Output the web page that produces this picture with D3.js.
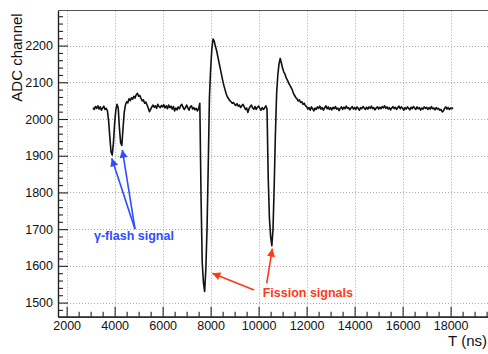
<!DOCTYPE html>
<html>
<head>
<meta charset="utf-8">
<script src="https://cdn.jsdelivr.net/npm/d3@7"></script>
<style>
  body { margin: 0; background: #fff; }
  svg { display: block; font-family: "Liberation Sans", Arial, Helvetica, sans-serif; }
</style>
</head>
<body>
<svg width="488" height="354"></svg>
<script>
// waveform: one ADC sample every 50 ns starting at 3100 ns
const tStart = 3100;
const tStep = 50;
const adcValues = [
  // 3100 - 3950
  2031, 2026, 2034, 2029, 2036, 2027, 2033, 2024, 2030, 2035, 2026, 2029, 2022, 1995, 1950, 1910, 1902, 1935,
  // 4000 - 4950
  1988, 2025, 2040, 2030, 1975, 1935, 1928, 1975, 2018, 2038, 2047, 2044, 2055, 2050, 2058, 2054, 2062, 2057, 2066, 2070,
  // 5000 - 5950
  2062, 2064, 2056, 2049, 2052, 2043, 2046, 2038, 2030, 2020, 2026, 2033, 2038, 2032, 2036, 2029, 2040, 2034, 2031, 2037,
  // 6000 - 6950
  2033, 2039, 2030, 2036, 2028, 2038, 2031, 2035, 2027, 2034, 2022, 2030, 2025, 2033, 2028, 2036, 2040, 2032, 2026, 2031,
  // 7000 - 7950
  2038, 2030, 2024, 2033, 2036, 2027, 2031, 2025, 2029, 2022, 2028, 2043, 1790, 1610, 1555, 1530, 1590, 1700, 1870, 2060,
  // 8000 - 8950
  2135, 2190, 2218, 2212, 2198, 2186, 2170, 2154, 2138, 2122, 2106, 2092, 2080, 2068, 2060, 2055, 2050, 2047, 2043, 2045,
  // 9000 - 9950
  2040, 2037, 2042, 2035, 2038, 2031, 2036, 2040, 2033, 2026, 2030, 2018, 2028, 2034, 2038, 2030, 2027, 2034, 2026, 2032,
  // 10000 - 10950
  2035, 2029, 2024, 2031, 2026, 2030, 2036, 2028, 1840, 1730, 1680, 1655, 1700, 1820, 1960, 2070, 2120, 2150, 2165, 2152,
  // 11000 - 11950
  2138, 2128, 2122, 2112, 2106, 2098, 2092, 2086, 2080, 2070, 2064, 2058, 2055, 2049, 2052, 2045, 2047, 2040, 2043, 2036,
  // 12000 - 12950
  2034, 2027, 2031, 2024, 2033, 2028, 2022, 2030, 2026, 2033, 2029, 2035, 2027, 2031, 2024, 2030, 2036, 2028, 2033, 2026,
  // 13000 - 13950
  2031, 2025, 2032, 2028, 2034, 2027, 2030, 2023, 2029, 2033, 2026, 2032, 2028, 2035, 2029, 2031, 2025, 2030, 2034, 2027,
  // 14000 - 14950
  2031, 2026, 2033, 2029, 2024, 2031, 2028, 2034, 2030, 2026, 2032, 2027, 2033, 2029, 2035, 2028, 2031, 2025, 2030, 2033,
  // 15000 - 15950
  2027, 2032, 2028, 2034, 2030, 2036, 2029, 2033, 2027, 2031, 2025, 2030, 2034, 2028, 2032, 2026, 2031, 2035, 2028, 2033,
  // 16000 - 16950
  2029, 2024, 2031, 2027, 2033, 2029, 2025, 2032, 2028, 2034, 2030, 2026, 2033, 2028, 2031, 2024, 2030, 2027, 2033, 2029,
  // 17000 - 17950
  2032, 2026, 2031, 2027, 2034, 2028, 2030, 2025, 2031, 2027, 2029, 2024, 2026, 2019, 2022, 2029, 2033, 2027, 2031, 2026,
  // 18000 - 18100
  2030, 2028, 2031
];

const xMajorTicks = [2000, 4000, 6000, 8000, 10000, 12000, 14000, 16000, 18000];
const yMajorTicks = [1500, 1600, 1700, 1800, 1900, 2000, 2100, 2200];

// annotations in data units: [T, ADC]
const gammaLabel = { text: "\u03b3-flash signal", at: [3140, 1670] };
const gammaArrows = [
  { from: [4850, 1700], to: [3880, 1893] },
  { from: [4850, 1700], to: [4320, 1916] }
];
const fissionLabel = { text: "Fission signals", at: [10170, 1516] };
const fissionArrows = [
  { from: [9810, 1534], to: [8071, 1580] },
  { from: [10337, 1552], to: [10571, 1647] }
];

const blue = "#2f4dff";
const red = "#ff3a17";

const svg = d3.select("svg");
const frame = { left: 58, right: 498.6, top: 10.7, bottom: 316.7 };

const x = d3.scaleLinear().domain([1640, 20000]).range([frame.left, frame.right]);
const y = d3.scaleLinear().domain([1461.5, 2295]).range([frame.bottom, frame.top]);

const xMinor = d3.range(2000, 20000, 500).filter(d => xMajorTicks.indexOf(d) < 0);
const yMinor = d3.range(1480, 2295, 20).filter(d => yMajorTicks.indexOf(d) < 0);
const fmt = d3.format("d");

// grid
const grid = svg.append("g")
  .attr("stroke", "#a8a8a8")
  .attr("stroke-width", 1)
  .attr("stroke-dasharray", "1,2");
grid.selectAll(".vg").data(xMajorTicks).join("line")
  .attr("x1", d => Math.round(x(d)) + 0.5).attr("x2", d => Math.round(x(d)) + 0.5)
  .attr("y1", frame.top).attr("y2", frame.bottom);
grid.selectAll(".hg").data(yMajorTicks).join("line")
  .attr("y1", d => Math.round(y(d)) + 0.5).attr("y2", d => Math.round(y(d)) + 0.5)
  .attr("x1", frame.left).attr("x2", 488);

// top frame line
svg.append("line")
  .attr("x1", frame.left).attr("x2", 488)
  .attr("y1", 10.5).attr("y2", 10.5)
  .attr("stroke", "#555").attr("stroke-width", 1);

// x axis
const gxMinor = svg.append("g").attr("transform", `translate(0,${frame.bottom})`)
  .call(d3.axisBottom(x).tickValues(xMinor).tickSize(-5).tickFormat("").tickSizeOuter(0));
const gx = svg.append("g").attr("transform", `translate(0,${frame.bottom})`)
  .call(d3.axisBottom(x).tickValues(xMajorTicks).tickFormat(fmt).tickSize(-10).tickPadding(4.5).tickSizeOuter(0));

// y axis
const gyMinor = svg.append("g").attr("transform", `translate(${frame.left},0)`)
  .call(d3.axisLeft(y).tickValues(yMinor).tickSize(-5).tickFormat("").tickSizeOuter(0));
const gy = svg.append("g").attr("transform", `translate(${frame.left},0)`)
  .call(d3.axisLeft(y).tickValues(yMajorTicks).tickFormat(fmt).tickSize(-10).tickPadding(5).tickSizeOuter(0));

[gxMinor, gx, gyMinor, gy].forEach(g => {
  g.attr("font-family", null).attr("font-size", 12.5);
  g.selectAll("line").attr("stroke", "#222").attr("stroke-width", 1.1);
  g.selectAll(".domain").attr("stroke", "#222").attr("stroke-width", 1.2);
  g.selectAll("text").attr("fill", "#111");
});

// axis titles
svg.append("text")
  .attr("transform", "translate(21.5,13.3) rotate(-90)")
  .attr("text-anchor", "end")
  .attr("font-size", 15)
  .attr("fill", "#111")
  .text("ADC channel");
svg.append("text")
  .attr("x", 487).attr("y", 346)
  .attr("text-anchor", "end")
  .attr("font-size", 15)
  .attr("fill", "#111")
  .text("T (ns)");

// waveform
const line = d3.line()
  .x((d, i) => x(tStart + i * tStep))
  .y(d => y(d));
svg.append("path")
  .datum(adcValues)
  .attr("d", line)
  .attr("fill", "none")
  .attr("stroke", "#111")
  .attr("stroke-width", 1.6)
  .attr("stroke-linejoin", "round");

// arrow heads
const defs = svg.append("defs");
[["headBlue", blue], ["headRed", red]].forEach(([id, c]) => {
  defs.append("marker")
    .attr("id", id)
    .attr("viewBox", "0 0 10 10")
    .attr("refX", 10).attr("refY", 5)
    .attr("markerUnits", "userSpaceOnUse")
    .attr("markerWidth", 9).attr("markerHeight", 8)
    .attr("orient", "auto")
    .append("path")
    .attr("d", "M0,0 L10,5 L0,10 Z")
    .attr("fill", c);
});

function drawArrows(list, color, head) {
  svg.append("g").selectAll("line").data(list).join("line")
    .attr("x1", d => x(d.from[0])).attr("y1", d => y(d.from[1]))
    .attr("x2", d => x(d.to[0])).attr("y2", d => y(d.to[1]))
    .attr("stroke", color)
    .attr("stroke-width", 1.6)
    .attr("marker-end", `url(#${head})`);
}
drawArrows(gammaArrows, blue, "headBlue");
drawArrows(fissionArrows, red, "headRed");

svg.append("text")
  .attr("x", x(gammaLabel.at[0])).attr("y", y(gammaLabel.at[1]))
  .attr("font-size", 12.5).attr("font-weight", "bold")
  .attr("fill", blue)
  .text(gammaLabel.text);
svg.append("text")
  .attr("x", x(fissionLabel.at[0])).attr("y", y(fissionLabel.at[1]))
  .attr("font-size", 12.5).attr("font-weight", "bold")
  .attr("fill", red)
  .text(fissionLabel.text);
</script>
</body>
</html>
